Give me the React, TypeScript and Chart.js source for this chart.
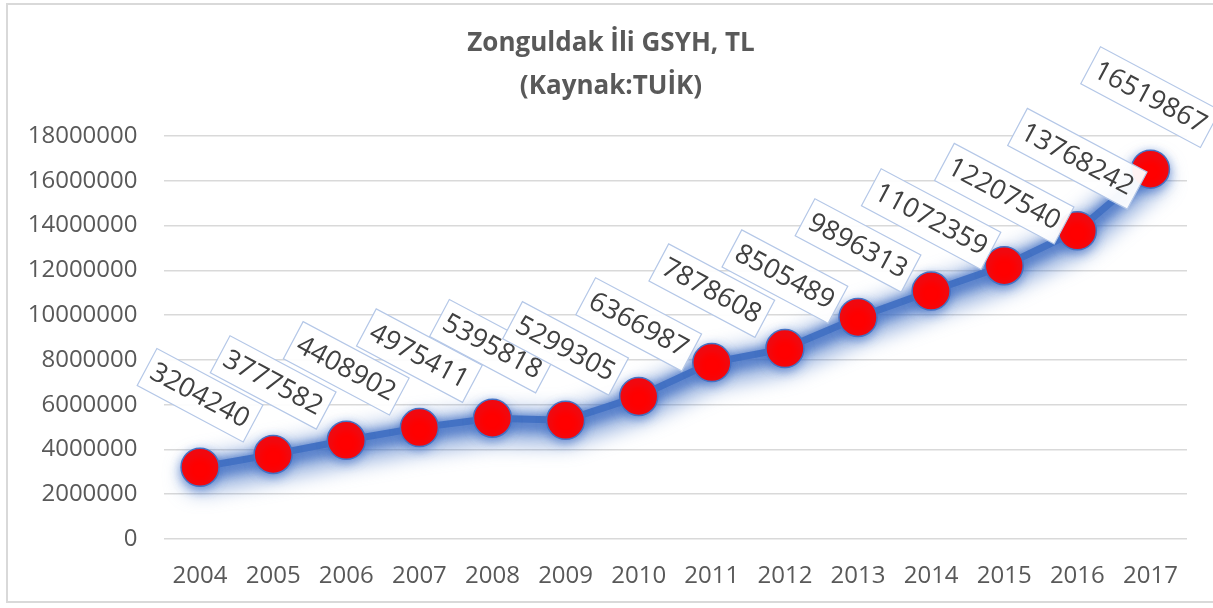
import React, { useEffect, useRef } from "react";
import { Chart, registerables } from "chart.js";

Chart.register(...registerables);

const titleLines = ["Zonguldak İli GSYH, TL", "(Kaynak:TUİK)"];
const years = ["2004", "2005", "2006", "2007", "2008", "2009", "2010", "2011", "2012", "2013", "2014", "2015", "2016", "2017"];
const gsyh = [3204240, 3777582, 4408902, 4975411, 5395818, 5299305, 6366987, 7878608, 8505489, 9896313, 11072359, 12207540, 13768242, 16519867];
const yMin = 0;
const yMax = 18000000;
const yStep = 2000000;

const W = 1213;
const H = 608;

const glowPlugin = {
  id: "glow",
  beforeDatasetsDraw(chart: any) {
    const ctx = chart.ctx;
    const meta = chart.getDatasetMeta(0);
    const pts = meta.data;
    if (!pts.length) return;
    const pass = (width: number, blur: number, alpha: number, dy: number) => {
      ctx.save();
      ctx.filter = `blur(${blur}px)`;
      ctx.strokeStyle = `rgba(68,114,196,${alpha})`;
      ctx.lineWidth = width;
      ctx.lineJoin = "round";
      ctx.lineCap = "round";
      ctx.beginPath();
      pts.forEach((p: any, i: number) => {
        if (i === 0) ctx.moveTo(p.x, p.y + dy);
        else ctx.lineTo(p.x, p.y + dy);
      });
      ctx.stroke();
      ctx.restore();
    };
    pass(34, 10, 0.55, 8);
    pass(18, 5, 0.6, 4);
  },
  beforeDatasetDraw(chart: any) {
    const ctx = chart.ctx;
    ctx.save();
    ctx.shadowColor = "rgba(68,114,196,0.6)";
    ctx.shadowBlur = 10;
    ctx.shadowOffsetX = 0;
    ctx.shadowOffsetY = 3;
  },
  afterDatasetDraw(chart: any) {
    chart.ctx.restore();
  },
};

const labelPlugin = {
  id: "rotLabels",
  afterDatasetsDraw(chart: any) {
    const ctx = chart.ctx;
    const meta = chart.getDatasetMeta(0);
    const data = chart.data.datasets[0].data;
    ctx.save();
    ctx.font = "27px 'Open Sans'";
    meta.data.forEach((pt: any, i: number) => {
      const txt = String(data[i]);
      const cx = pt.x;
      const cy = pt.y - 72;
      ctx.save();
      ctx.translate(cx, cy);
      ctx.rotate((28 * Math.PI) / 180);
      const w = ctx.measureText(txt).width + 12;
      const h = 42;
      ctx.fillStyle = "rgba(255,255,255,0.95)";
      ctx.fillRect(-w / 2, -h / 2, w, h);
      ctx.strokeStyle = "#b4c7e7";
      ctx.lineWidth = 1.2;
      ctx.strokeRect(-w / 2, -h / 2, w, h);
      ctx.fillStyle = "#404040";
      ctx.textAlign = "center";
      ctx.textBaseline = "middle";
      ctx.fillText(txt, 0, 1);
      ctx.restore();
    });
    ctx.restore();
  },
};

const titlePlugin = {
  id: "customTitle",
  afterDraw(chart: any) {
    const ctx = chart.ctx;
    ctx.save();
    ctx.font = "bold 26px 'Open Sans'";
    ctx.fillStyle = "#595959";
    ctx.textAlign = "center";
    ctx.textBaseline = "middle";
    ctx.fillText(titleLines[0], 611, 44);
    ctx.fillText(titleLines[1], 611, 87);
    ctx.restore();
  },
};

export default function App() {
  const ref = useRef<HTMLCanvasElement | null>(null);

  useEffect(() => {
    document.body.style.margin = "0";
    document.body.style.overflow = "hidden";
    if (!ref.current) return;
    const chart = new Chart(ref.current, {
      type: "line",
      data: {
        labels: years,
        datasets: [
          {
            data: gsyh,
            borderColor: "#4472C4",
            borderWidth: 7,
            pointRadius: 19,
            pointHoverRadius: 19,
            pointBackgroundColor: "#FF0000",
            pointBorderColor: "#4472C4",
            pointBorderWidth: 1.5,
            tension: 0,
            fill: false,
          },
        ],
      },
      options: {
        responsive: false,
        animation: false,
        devicePixelRatio: 1,
        layout: { padding: { left: 0, right: 26, top: 136, bottom: 0 } },
        plugins: {
          legend: { display: false },
          title: { display: false },
          tooltip: { enabled: false },
        },
        scales: {
          x: {
            offset: true,
            grid: { display: false, drawTicks: false },
            border: { display: false },
            ticks: {
              padding: 23,
              color: "#595959",
              font: { family: "'Open Sans'", size: 24 },
              maxRotation: 0,
              autoSkip: false,
            },
            afterFit(scale: any) {
              scale.height = H - 539;
            },
          },
          y: {
            min: yMin,
            max: yMax,
            grid: { color: "#d9d9d9", lineWidth: 1.5, drawTicks: false },
            border: { display: false },
            ticks: {
              stepSize: yStep,
              padding: 26,
              color: "#595959",
              font: { family: "'Open Sans'", size: 24 },
              callback: (v: any) => String(v),
            },
            afterFit(scale: any) {
              scale.width = 163.5;
            },
          },
        },
      },
      plugins: [glowPlugin, labelPlugin, titlePlugin],
    });
    return () => chart.destroy();
  }, []);

  return (
    <div style={{ position: "relative", width: W, height: H, background: "#fff" }}>
      <div
        style={{
          position: "absolute",
          left: 6,
          top: 3,
          width: W - 6,
          height: 600,
          borderTop: "2px solid #d9d9d9",
          borderLeft: "2px solid #d9d9d9",
          borderBottom: "2px solid #d9d9d9",
          boxSizing: "border-box",
        }}
      />
      <canvas
        ref={ref}
        width={W}
        height={H}
        style={{ position: "absolute", left: 0, top: 0, width: W, height: H }}
      />
    </div>
  );
}
